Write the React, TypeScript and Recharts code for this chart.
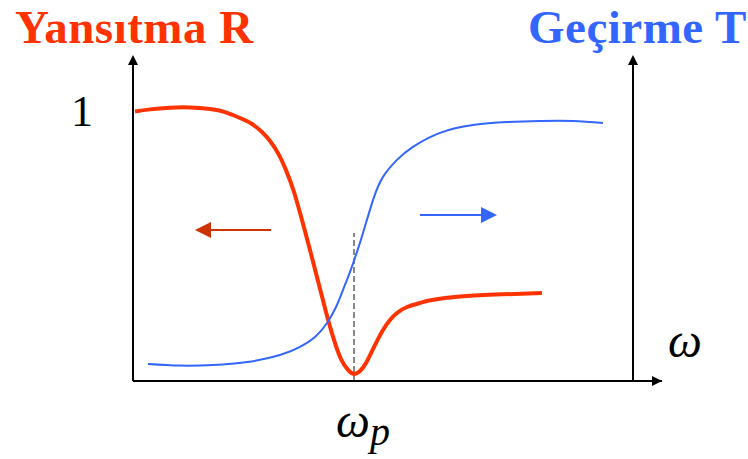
import React from 'react';
import { ComposedChart, Line, XAxis, YAxis, ReferenceLine, ReferenceDot } from 'recharts';

// Reflection R(ω): plateau near 1, sharp dip at the plasma frequency, partial recovery
const reflectX = [0.4, 3.4, 7.4, 11.4, 15.4, 18.4, 21.4, 23.8, 25.8, 27.4, 29, 30.6, 32.2, 33.8, 35.4, 37, 38.6, 40.2, 41.6, 43, 44.2, 45.4, 46.6, 47.8, 48.8, 50, 51.4, 52.8, 54.8, 57.4, 59.8, 65.4, 72.4, 81.8];
const reflectY = [0.998, 1.006, 1.012, 1.013, 1.007, 0.996, 0.974, 0.952, 0.922, 0.889, 0.844, 0.781, 0.7, 0.596, 0.485, 0.37, 0.256, 0.152, 0.081, 0.041, 0.026, 0.037, 0.067, 0.111, 0.148, 0.189, 0.226, 0.252, 0.274, 0.289, 0.3, 0.313, 0.32, 0.326];

// Transmission T(ω): near zero below ω_p, rising to a plateau above it
const transX = [3, 9.4, 16, 22.8, 29.4, 33.4, 36.4, 38.8, 40.6, 42, 43.4, 44.8, 46, 48, 50, 52.8, 56, 61.4, 68, 74.8, 81.4, 88, 94];
const transY = [0.063, 0.057, 0.059, 0.07, 0.096, 0.126, 0.163, 0.215, 0.274, 0.337, 0.404, 0.478, 0.548, 0.67, 0.756, 0.819, 0.867, 0.919, 0.948, 0.959, 0.963, 0.963, 0.956];

const plasmaFreq = 44.2;
const dashTop = 0.548;
const yTicks = [1];

const reflectData = reflectX.map((x, i) => ({ x, r: reflectY[i] }));
const transData = transX.map((x, i) => ({ x, t: transY[i] }));

const RED = '#ff3300';
const BLUE = '#3366ff';
const SERIF = '"Liberation Serif", "Times New Roman", "DejaVu Serif", serif';

const X_MAX = 105.8;
const Y_MAX = 1.2;

const italic: React.CSSProperties = { fontFamily: SERIF, fontStyle: 'italic' };
const bold: React.CSSProperties = { fontFamily: SERIF, fontWeight: 'bold', letterSpacing: 0.5 };

const UpHead = (p: any) => (
  <polygon points={`${p.cx},${p.cy - 2} ${p.cx - 5},${p.cy + 8} ${p.cx + 5},${p.cy + 8}`} fill="#000" />
);
const RightHead = (p: any) => (
  <polygon points={`${p.cx},${p.cy} ${p.cx - 10},${p.cy - 5} ${p.cx - 10},${p.cy + 5}`} fill="#000" />
);
const makeHead = (dir: number, color: string) => (p: any) => (
  <polygon
    points={`${p.cx},${p.cy} ${p.cx - dir * 16},${p.cy - 8} ${p.cx - dir * 16},${p.cy + 8}`}
    fill={color}
  />
);
const RedHead = makeHead(-1, '#cc3300');
const BlueHead = makeHead(1, BLUE);

const OmegaTick = (p: any) => (
  <text x={p.x - 18} y={437} style={italic} fontSize={48} fill="#000" textAnchor="start">
    ω
    <tspan fontSize={40} dy={8} style={italic}>p</tspan>
  </text>
);

const OneTick = (p: any) => (
  <text x={p.x} y={p.y} dy={15} textAnchor="end" style={{ fontFamily: SERIF }} fontSize={44} fill="#000">
    {p.payload.value}
  </text>
);

export default function App() {
  return (
    <div style={{ position: 'absolute', left: 0, top: 0, width: 748, height: 459, background: '#fff' }}>
      <ComposedChart width={748} height={459} margin={{ top: 57, right: 86, bottom: 18, left: 73 }}>
        <XAxis
          type="number"
          dataKey="x"
          domain={[0, X_MAX]}
          allowDataOverflow
          ticks={[plasmaFreq]}
          tick={<OmegaTick />}
          tickLine={false}
          height={60}
          axisLine={{ stroke: '#000', strokeWidth: 2 }}
        />
        <YAxis
          type="number"
          domain={[0, Y_MAX]}
          allowDataOverflow
          ticks={yTicks}
          tick={<OneTick />}
          tickLine={false}
          tickSize={0}
          tickMargin={40}
          width={60}
          axisLine={{ stroke: '#000', strokeWidth: 2 }}
        />
        <ReferenceLine segment={[{ x: 100, y: 0 }, { x: 100, y: Y_MAX }]} stroke="#000" strokeWidth={2} />
        <ReferenceLine
          segment={[{ x: plasmaFreq, y: 0 }, { x: plasmaFreq, y: dashTop }]}
          stroke="#888"
          strokeWidth={2}
          strokeDasharray="6 3"
        />
        <ReferenceLine segment={[{ x: 15.6, y: 0.559 }, { x: 27.6, y: 0.559 }]} stroke="#cc3300" strokeWidth={2} />
        <ReferenceLine segment={[{ x: 57.4, y: 0.615 }, { x: 69.8, y: 0.615 }]} stroke={BLUE} strokeWidth={2} />
        <ReferenceDot x={12.4} y={0.559} shape={RedHead} />
        <ReferenceDot x={72.8} y={0.615} shape={BlueHead} />
        <ReferenceDot x={0} y={Y_MAX} shape={UpHead} />
        <ReferenceDot x={100} y={Y_MAX} shape={UpHead} />
        <ReferenceDot x={X_MAX} y={0} shape={RightHead} />
        <Line
          data={reflectData}
          dataKey="r"
          type="natural"
          stroke={RED}
          strokeWidth={4}
          dot={false}
          isAnimationActive={false}
        />
        <Line
          data={transData}
          dataKey="t"
          type="natural"
          stroke={BLUE}
          strokeWidth={2}
          dot={false}
          isAnimationActive={false}
        />
      </ComposedChart>
      <svg width={748} height={459} style={{ position: 'absolute', left: 0, top: 0, pointerEvents: 'none' }}>
        <text x={15} y={43} style={bold} fontSize={47} fill={RED}>
          Yansıtma R
        </text>
        <text x={528} y={43} style={bold} fontSize={47} fill={BLUE}>
          Geçirme T
        </text>
        <text x={668} y={357} style={italic} fontSize={48} fill="#000">
          ω
        </text>
      </svg>
    </div>
  );
}
